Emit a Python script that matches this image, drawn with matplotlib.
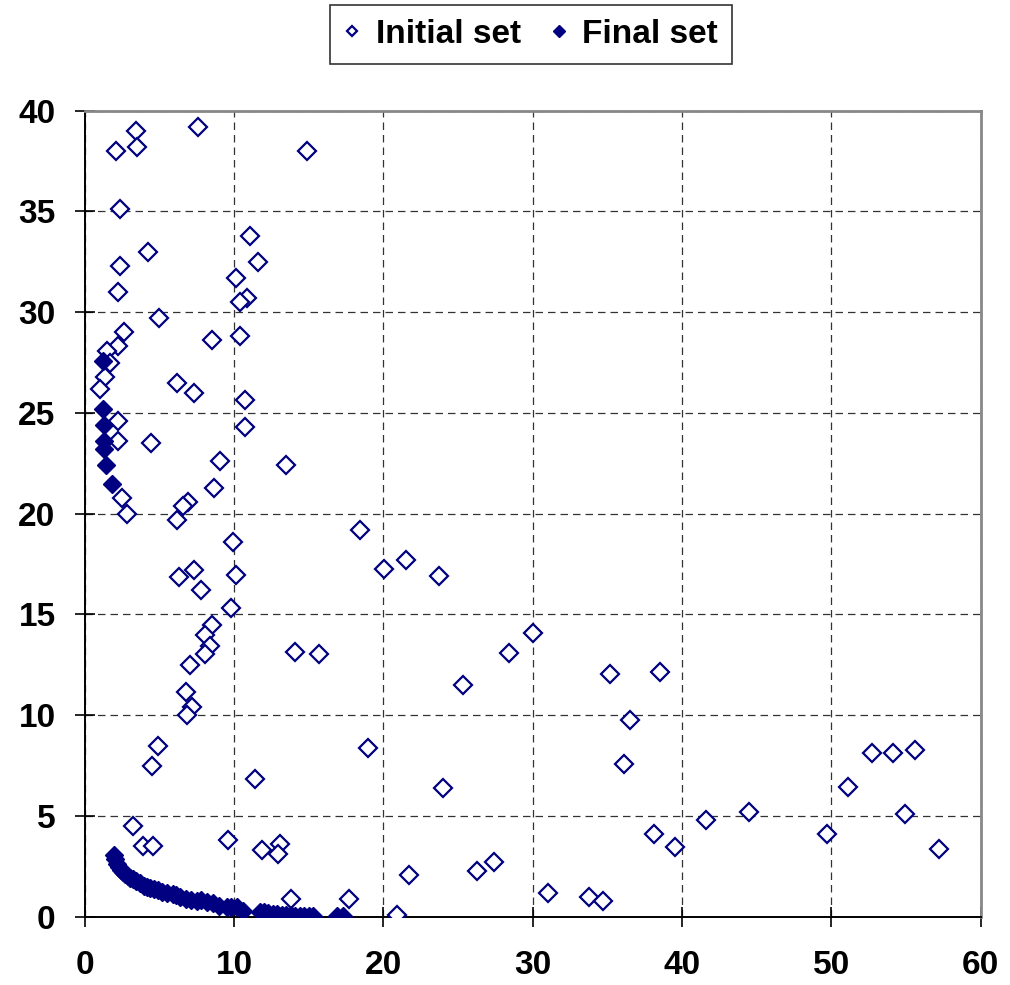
import matplotlib
matplotlib.use("Agg")
import matplotlib.pyplot as plt

plt.rcParams['font.family'] = ['Liberation Sans', 'DejaVu Sans']

# Initial set (open diamonds)
init_x = [3.42, 7.61, 2.08, 3.53, 14.9,
          2.37, 4.26, 2.37, 2.21, 11.1, 11.57, 10.1, 10.85, 10.4,
          5.0, 2.63, 2.23, 1.47, 1.67, 8.5, 10.4, 1.34, 1.03,
          6.15, 7.32, 10.7, 10.7, 2.21, 2.21, 4.45, 13.5, 9.08,
          8.63, 2.5, 2.81, 6.92, 6.61, 6.16, 18.44, 9.96, 7.32,
          6.32, 10.11, 7.77, 9.82, 8.5, 8.06, 8.37, 8.06, 14.07,
          15.7, 7.05, 6.76, 7.21, 6.88,
          20.05, 21.5, 23.7, 30.0, 28.4, 25.3, 35.15, 38.5, 36.5,
          19.0, 36.1, 24.0, 38.1, 39.5, 21.7, 26.3, 27.4, 31.0,
          33.8, 34.7, 17.7, 20.9,
          41.6, 44.5, 49.7, 51.1, 52.7, 54.1, 55.6, 54.9, 57.2,
          4.9, 4.5, 11.4, 3.2, 3.9, 4.6, 9.6, 11.9, 13.1, 12.95, 13.8]
init_y = [39.0, 39.2, 38.0, 38.2, 38.0,
          35.1, 33.0, 32.3, 31.0, 33.8, 32.5, 31.7, 30.7, 30.5,
          29.7, 29.0, 28.3, 28.1, 27.5, 28.6, 28.8, 26.8, 26.2,
          26.5, 26.0, 25.65, 24.3, 24.6, 23.6, 23.5, 22.4, 22.6,
          21.3, 20.8, 20.0, 20.6, 20.4, 19.7, 19.2, 18.6, 17.2,
          16.85, 16.95, 16.2, 15.3, 14.46, 14.0, 13.46, 13.03, 13.13,
          13.05, 12.5, 11.17, 10.43, 10.0,
          17.26, 17.7, 16.9, 14.1, 13.1, 11.5, 12.05, 12.15, 9.77,
          8.36, 7.6, 6.4, 4.13, 3.46, 2.05, 2.29, 2.72, 1.17,
          0.96, 0.76, 0.86, 0.11,
          4.78, 5.2, 4.13, 6.42, 8.14, 8.14, 8.27, 5.1, 3.35,
          8.45, 7.5, 6.85, 4.5, 3.5, 3.5, 3.8, 3.3, 3.6, 3.1, 0.9]

# Final set (filled diamonds)
final_x = [1.2, 1.2, 1.3, 1.3, 1.3, 1.45, 1.85,
           1.95, 2.05, 2.15, 2.3, 2.4, 2.55, 2.7, 2.9, 3.05, 3.25,
           3.45, 3.7, 3.95, 4.15, 4.4, 4.65, 4.9, 5.2, 5.5, 5.9,
           6.1, 6.4, 6.8, 7.1, 7.5, 7.8, 8.2, 8.6, 9.0, 9.5, 9.8,
           10.2, 10.6, 11.75, 12.0, 12.3, 12.6, 12.9, 13.2, 13.5,
           13.8, 14.1, 14.4, 14.7, 15.0, 15.3, 16.9, 17.3]
final_y = [27.6, 25.2, 24.4, 23.6, 23.2, 22.4, 21.5,
           3.05, 2.85, 2.6, 2.45, 2.3, 2.2, 2.1, 2.0, 1.9, 1.85,
           1.75, 1.65, 1.55, 1.5, 1.45, 1.38, 1.33, 1.25, 1.2, 1.13,
           1.08, 1.0, 0.87, 0.85, 0.8, 0.83, 0.72, 0.67, 0.55, 0.47, 0.5,
           0.47, 0.3, 0.25, 0.22, 0.18, 0.15, 0.12, 0.1, 0.08,
           0.07, 0.06, 0.05, 0.04, 0.03, 0.02, 0.02, 0.02]

x_ticks = [0, 10, 20, 30, 40, 50, 60]
y_ticks = [0, 5, 10, 15, 20, 25, 30, 35, 40]

navy = '#000080'

fig = plt.figure(figsize=(10.10, 9.85), dpi=100)
ax = fig.add_axes([0.0839, 0.0693, 0.8871, 0.8183])

ax.plot(init_x, init_y, linestyle='none', marker='D', markersize=9,
        markerfacecolor='white', markeredgecolor=navy, markeredgewidth=1.6,
        label='Initial set', zorder=3)
ax.plot(final_x, final_y, linestyle='none', marker='D', markersize=9.5,
        markerfacecolor=navy, markeredgecolor=navy, markeredgewidth=1.0,
        label='Final set', zorder=4)

ax.set_xlim(0, 60)
ax.set_ylim(0, 40)
ax.set_xticks(x_ticks)
ax.set_yticks(y_ticks)
ax.grid(True, color='#333333', linestyle=(0, (6, 4)), linewidth=0.9)
ax.set_axisbelow(True)

for s in ['left', 'bottom']:
    ax.spines[s].set_color('black')
    ax.spines[s].set_linewidth(1.4)
for s in ['top', 'right']:
    ax.spines[s].set_color('#888888')
    ax.spines[s].set_linewidth(2.0)

ax.tick_params(axis='both', direction='inout', length=14, width=1.2,
               labelsize=24)
ax.tick_params(axis='x', pad=17)
ax.tick_params(axis='y', pad=14)
for lab in ax.get_xticklabels() + ax.get_yticklabels():
    lab.set_fontweight('bold')

leg = fig.legend(loc='upper center', bbox_to_anchor=(531 / 1010, 1 - 5 / 985),
                 ncol=2, frameon=True, fancybox=False, shadow=False,
                 prop={'size': 24, 'weight': 'bold'}, markerscale=0.6,
                 handlelength=0.5, handletextpad=0.45, columnspacing=0.9,
                 borderpad=0.42, borderaxespad=0.0, edgecolor='black')
leg.get_frame().set_linewidth(1.2)

fig.savefig('out.png', dpi=100)
